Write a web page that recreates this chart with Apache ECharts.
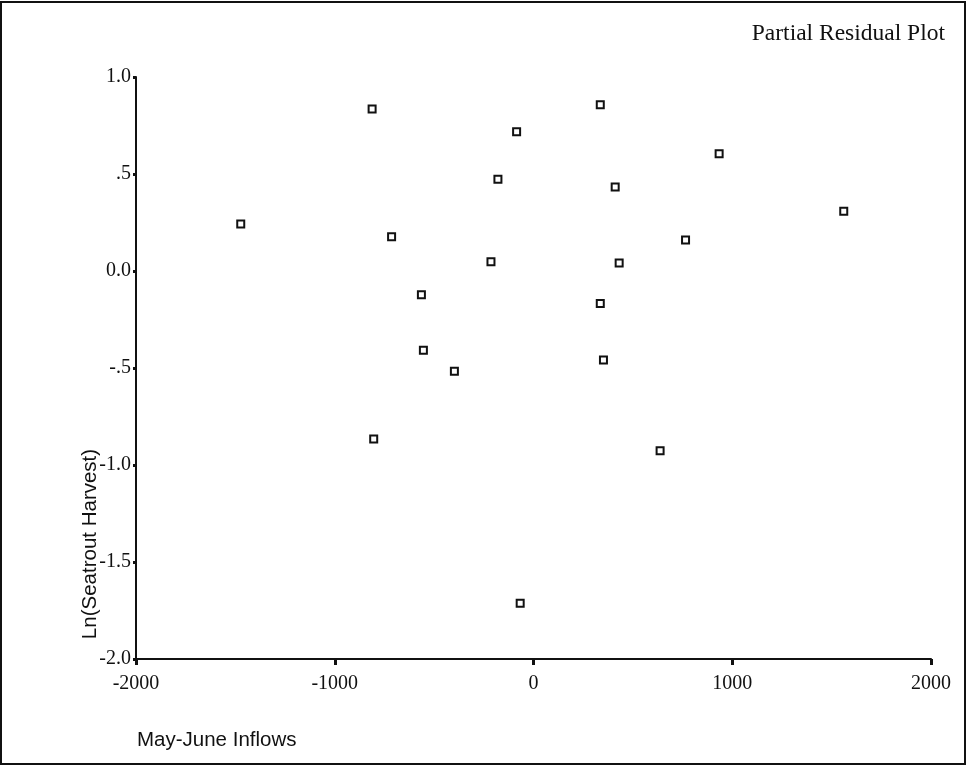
<!DOCTYPE html>
<html>
<head>
<meta charset="utf-8">
<script src="https://cdn.jsdelivr.net/npm/echarts@6/dist/echarts.min.js"></script>
<style>html,body{margin:0;padding:0;background:#fff}#c{width:967px;height:767px}</style>
</head>
<body>
<div id="c"></div>
<script>
// Data
const inflows = [-812, -85, -179, -1473, -714, -214, -564, 336, 934, 411, 1561, 765, 431, 336, -554, -398, 352, -804, 637, -67];
const lnHarvest = [0.835, 0.718, 0.473, 0.242, 0.177, 0.048, -0.122, 0.857, 0.605, 0.433, 0.308, 0.160, 0.041, -0.167, -0.409, -0.517, -0.459, -0.866, -0.926, -1.713];
const xTickValues = [-2000, -1000, 0, 1000, 2000];
const xTickLabels = ['-2000', '-1000', '0', '1000', '2000'];
const yTickValues = [-2, -1.5, -1, -0.5, 0, 0.5, 1];
const yTickLabels = ['-2.0', '-1.5', '-1.0', '-.5', '0.0', '.5', '1.0'];
const titleText = 'Partial Residual Plot';
const xName = 'May-June Inflows';
const yName = 'Ln(Seatrout Harvest)';

const points = inflows.map((x, i) => [x, lnHarvest[i]]);
function lookup(vals, labels, v) {
  for (let i = 0; i < vals.length; i++) if (Math.abs(vals[i] - v) < 1e-9) return labels[i];
  return '';
}
const serif = 'Liberation Serif, Times New Roman, serif';
const sans = 'Liberation Sans, Arial, sans-serif';

const chart = echarts.init(document.getElementById('c'), null, {renderer: 'canvas'});
chart.setOption({
  backgroundColor: '#fff',
  animation: false,
  title: {
    text: titleText, right: 17, top: 17,
    textStyle: {fontFamily: serif, fontSize: 23.5, fontWeight: 'normal', color: '#111'}
  },
  grid: {left: 136, right: 36, top: 77, bottom: 108},
  xAxis: {
    type: 'value', min: -2000, max: 2000, interval: 1000,
    axisLine: {show: true, onZero: false, lineStyle: {color: '#111', width: 2}},
    axisTick: {show: true, length: 6, lineStyle: {color: '#111', width: 3}},
    splitLine: {show: false},
    axisLabel: {margin: 15, fontFamily: serif, fontSize: 20, color: '#111',
      formatter: v => lookup(xTickValues, xTickLabels, v)}
  },
  yAxis: {
    type: 'value', min: -2, max: 1, interval: 0.5,
    axisLine: {show: true, onZero: false, lineStyle: {color: '#111', width: 2}},
    axisTick: {show: true, length: 3, lineStyle: {color: '#111', width: 3}},
    splitLine: {show: false},
    axisLabel: {margin: 5, fontFamily: serif, fontSize: 20, color: '#111',
      formatter: v => lookup(yTickValues, yTickLabels, v)}
  },
  graphic: [
    {type: 'rect', shape: {x: 1, y: 2, width: 964, height: 762}, style: {fill: 'none', stroke: '#111', lineWidth: 2}, silent: true},
    {type: 'text', left: 137, top: 730, style: {text: xName, font: '20.5px ' + sans, fill: '#111'}},
    {type: 'text', x: 90, y: 544, rotation: Math.PI / 2,
      style: {text: yName, font: '20.5px ' + sans, fill: '#111', align: 'center', verticalAlign: 'middle'}}
  ],
  series: [{
    type: 'scatter',
    data: points,
    symbol: 'rect',
    symbolSize: 7,
    itemStyle: {color: '#fff', borderColor: '#111', borderWidth: 2, opacity: 1}
  }]
});
</script>
</body>
</html>
